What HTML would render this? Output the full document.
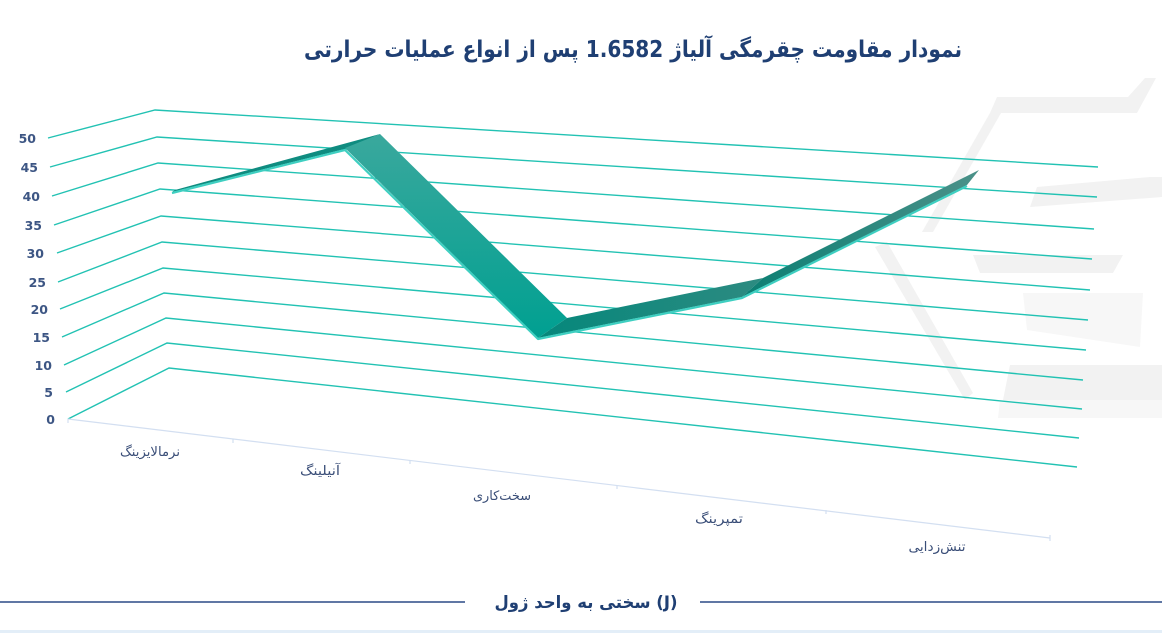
<!DOCTYPE html>
<html><head><meta charset="utf-8">
<style>
html,body{margin:0;padding:0;background:#fff;}
svg{display:block;}
text{font-family:"DejaVu Sans","Liberation Sans",sans-serif;}
</style></head>
<body>
<svg width="1162" height="633" viewBox="0 0 1162 633" xmlns="http://www.w3.org/2000/svg">
<defs>
<linearGradient id="g2" x1="0" y1="0" x2="0" y2="1">
<stop offset="0" stop-color="#3aa89d"/><stop offset="1" stop-color="#00a091"/>
</linearGradient>
<linearGradient id="g3" x1="0" y1="0" x2="1" y2="0">
<stop offset="0" stop-color="#05877b"/><stop offset="1" stop-color="#2d8b81"/>
</linearGradient>
<linearGradient id="g4" x1="0" y1="0" x2="1" y2="0">
<stop offset="0" stop-color="#0b7f73"/><stop offset="1" stop-color="#4b9189"/>
</linearGradient>
</defs>
<rect width="1162" height="633" fill="#fff"/>
<!-- watermark -->
<g fill="#f2f2f2">
<polygon points="990,113 997,97 1128,97 1145,78 1156,78 1137,113"/>
<polygon points="990,113 1001,113 933,232 922,232"/>
<polygon points="875,247 887,242 973,393 965,400"/>
<polygon points="1030,207 1037,187 1150,177 1162,177 1162,197"/>
<polygon points="973,255 1123,255 1113,273 980,273"/>
<polygon points="1003,400 1010,365 1162,365 1162,400"/>
</g>
<g fill="#f7f7f7">
<polygon points="1023,293 1143,293 1140,347 1027,330"/>
<polygon points="1000,400 1162,400 1162,418 998,418"/>
</g>
<!-- grid -->
<g fill="none" stroke="#22c2b3" stroke-width="1.4">
<polyline points="48,138 155,110 1098,167"/>
<polyline points="50,167 157,137 1097,197"/>
<polyline points="52,196 158,163 1094,229"/>
<polyline points="54,225 160,189 1092,259"/>
<polyline points="57,253 161,216 1090,290"/>
<polyline points="58,282 162,242 1088,320"/>
<polyline points="60,309 163,268 1086,350"/>
<polyline points="62,337 164,293 1083,380"/>
<polyline points="64,365 166,318 1082,409"/>
<polyline points="66,392 167,343 1079,438"/>
<polyline points="68,419 169,368 1077,467"/>
</g>
<!-- floor axis -->
<g stroke="#d3dff1" stroke-width="1.2" fill="none">
<line x1="68" y1="419" x2="1050" y2="538"/>
<line x1="68" y1="419" x2="68" y2="423"/>
<line x1="233" y1="439" x2="233" y2="443"/>
<line x1="410" y1="460" x2="410" y2="464"/>
<line x1="617" y1="485" x2="617" y2="489"/>
<line x1="826" y1="510" x2="826" y2="514"/>
<line x1="1050" y1="535" x2="1050" y2="541"/>
</g>
<!-- y labels -->
<g font-size="12.5" font-weight="bold" fill="#3d5684" text-anchor="end">
<text x="36" y="143">50</text>
<text x="38" y="172">45</text>
<text x="40" y="201">40</text>
<text x="42" y="230">35</text>
<text x="44" y="258">30</text>
<text x="46" y="287">25</text>
<text x="48" y="314">20</text>
<text x="50" y="342">15</text>
<text x="52" y="370">10</text>
<text x="53" y="397">5</text>
<text x="55" y="424">0</text>
</g>
<!-- ribbon -->
<polygon points="172,192 345,149 380,134 175,190" fill="#0f8c80"/>
<polygon points="345,148 538,338 567,318 380,134" fill="url(#g2)"/>
<polygon points="538,338 742,297 763,278 567,318" fill="url(#g3)"/>
<polygon points="742,297 967,185 979,170 763,278" fill="url(#g4)"/>
<g fill="none" stroke="#3fcfc1" stroke-width="2.2" stroke-linejoin="round">
<polyline points="172,193 345,150 538,339 742,298 967,186"/>
</g>
<!-- category labels -->
<g font-size="13" fill="#3a4e78" text-anchor="middle">
<text x="150" y="456" textLength="60" lengthAdjust="spacingAndGlyphs">نرمالایزینگ</text>
<text x="320" y="475" textLength="40" lengthAdjust="spacingAndGlyphs">آنیلینگ</text>
<text x="502" y="500" textLength="58" lengthAdjust="spacingAndGlyphs">سخت‌کاری</text>
<text x="719" y="523" textLength="48" lengthAdjust="spacingAndGlyphs">تمپرینگ</text>
<text x="937" y="551" textLength="57" lengthAdjust="spacingAndGlyphs">تنش‌زدایی</text>
</g>
<!-- title -->
<text x="633" y="57" text-anchor="middle" font-size="23" font-weight="bold" fill="#1f3f73" textLength="658" lengthAdjust="spacingAndGlyphs">نمودار مقاومت چقرمگی آلیاژ 1.6582 پس از انواع عملیات حرارتی</text>
<!-- legend -->
<line x1="0" y1="602" x2="465" y2="602" stroke="#2c4a85" stroke-width="1.5"/>
<line x1="700" y1="602" x2="1162" y2="602" stroke="#2c4a85" stroke-width="1.5"/>
<text x="586" y="608" text-anchor="middle" font-size="17" font-weight="bold" fill="#1f3f73" textLength="183" lengthAdjust="spacingAndGlyphs">سختی به واحد ژول (J)</text>
<rect x="0" y="630" width="1162" height="3" fill="#e3eef8"/>
</svg>
</body></html>
